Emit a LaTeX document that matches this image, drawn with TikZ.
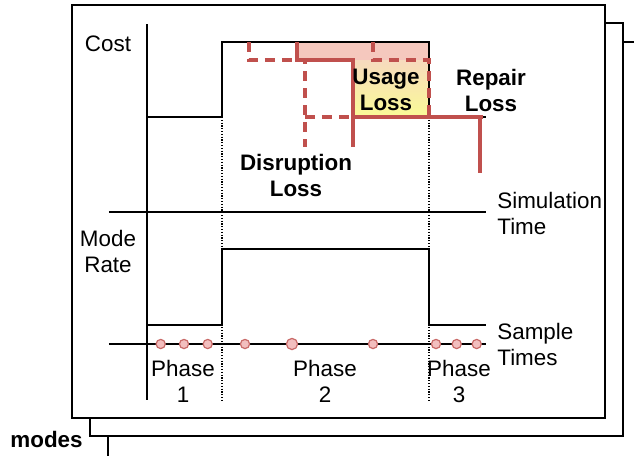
\documentclass[tikz,border=0pt]{standalone}
\usepackage{fontspec}
\setmainfont{Liberation Sans}
\definecolor{lossred}{RGB}{192,80,77}
\definecolor{losspink}{RGB}{245,200,190}
\definecolor{losspeach}{RGB}{247,218,190}
\definecolor{lossyellow}{RGB}{250,250,150}
\definecolor{dotpink}{RGB}{242,190,190}
\def\sampledot(#1)[#2]{\draw[line width=0.6pt, draw=lossred!85, fill=dotpink] (#1) circle (#2);}
\tikzset{
  sheet/.style={line width=1pt, fill=white},
  trace/.style={line width=0.8pt},
  loss/.style={line width=1.6pt, color=lossred},
  lossdash/.style={loss, dash pattern=on 5pt off 3.5pt},
  phasesep/.style={line width=0.6pt, dash pattern=on 0.6pt off 0.8pt},
  txt/.style={font=\fontsize{11.2}{13}\selectfont, align=center, inner sep=0pt},
  boldtxt/.style={txt, font=\fontsize{11.2}{13}\selectfont\bfseries},
}

\begin{document}
\begin{tikzpicture}[x=0.5pt, y=-0.5pt]
			%%%%% START %%%%%
			\useasboundingbox (0,0) rectangle (634,456);
			
			% stacked sheets, back to front
			\draw[sheet] (108,42) rectangle (660,480);
			\draw[sheet] (90,23) rectangle (623,436);
			\draw[sheet] (72,5) rectangle (605,418);
			\node[boldtxt, anchor=east] (modes) at (83,439) {modes};
			
			% loss areas
			\fill[losspink] (297,42) rectangle (429,60);
			\shade[top color=losspeach, bottom color=lossyellow] (353,60) rectangle (429,117);
			
			% axes
			\draw[trace] (147,24) -- (147,400);
			\draw[trace] (109,212) -- (486,212);
			\draw[trace] (109,344) -- (486,344);
			
			% phase borders
			\draw[phasesep] (222,117) -- (222,400);
			\draw[phasesep] (429,117) -- (429,400);
			
			% cost and mode rate
			\draw[trace] (147,117) -- (222,117) -- (222,42) -- (429,42) -- (429,117) -- (486,117);
			\draw[trace] (147,325) -- (222,325) -- (222,249) -- (429,249) -- (429,325) -- (486,325);
			
			% shifted cost steps
			\draw[lossdash] (249,42) -- (249,60) -- (305,60) -- (305,147);
			\draw[lossdash] (305,117) -- (353,117);
			\draw[loss] (297,42) -- (297,60) -- (353,60) -- (353,147);
			\draw[loss] (353,117) -- (483,117);
			\draw[loss] (480,117) -- (480,173);
			\draw[lossdash] (373,42) -- (373,60) -- (429,60) -- (429,117);
			
			% sample times
			\sampledot(160.7,344)[2.3pt]
			\sampledot(184,344)[2.3pt]
			\sampledot(207.7,344)[2.3pt]
			\sampledot(245,344)[2.3pt]
			\sampledot(292,344)[2.8pt]
			\sampledot(373,344)[2.3pt]
			\sampledot(436,344)[2.3pt]
			\sampledot(456.7,344)[2.3pt]
			\sampledot(476.7,344)[2.3pt]
			
			% labels
			\node[txt] (cost) at (108,44) {Cost};
			\node[txt] (moderate) at (108,251) {Mode\\Rate};
			\node[txt, anchor=west, align=left] (simtime) at (497,213) {Simulation\\Time};
			\node[txt, anchor=west, align=left] (sampletimes) at (497,344) {Sample\\Times};
			\node[txt] (phaseone) at (183,381) {Phase\\1};
			\node[txt] (phasetwo) at (325,381) {Phase\\2};
			\node[txt] (phasethree) at (459,381) {Phase\\3};
			\node[boldtxt] (disruption) at (296,175) {Disruption\\Loss};
			\node[boldtxt] (usage) at (386,90) {Usage\\Loss};
			\node[boldtxt] (repair) at (491,90) {Repair\\Loss};
			
			%%%%% END %%%%%
\end{tikzpicture}
\end{document}
